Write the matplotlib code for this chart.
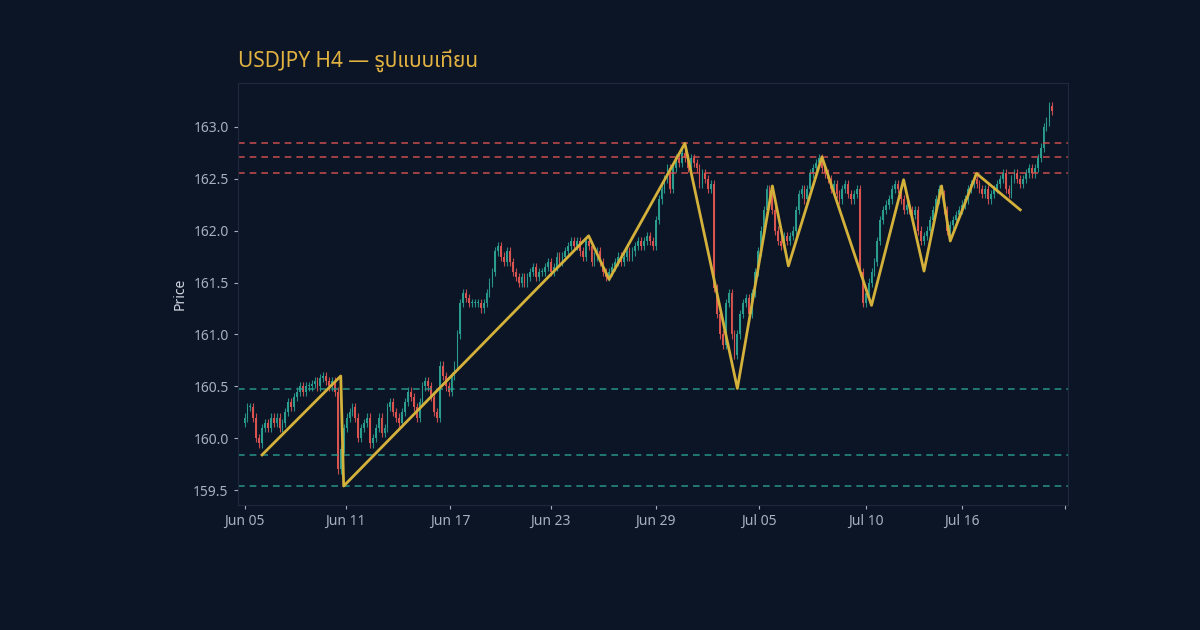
import numpy as np, pandas as pd
import matplotlib
matplotlib.use("Agg")
import matplotlib.pyplot as plt
import matplotlib.dates as mdates

closes = [
160.2,160.3,160.3,160.2,160.0,159.95,
160.1,160.15,160.1,160.2,160.15,160.2,
160.1,160.15,160.25,160.35,160.3,160.4,
160.45,160.5,160.45,160.5,160.5,160.52,
160.55,160.5,160.58,160.6,160.55,160.5,
160.55,160.45,159.7,159.9,160.1,160.2,
160.25,160.3,160.2,160.0,160.1,160.15,
160.2,159.95,160.0,160.1,160.2,160.05,
160.1,160.3,160.35,160.25,160.2,160.15,
160.25,160.35,160.45,160.4,160.3,160.2,
160.35,160.5,160.55,160.5,160.4,160.25,
160.2,160.7,160.6,160.5,160.45,160.6,
160.7,161.0,161.3,161.4,161.35,161.3,
161.3,161.3,161.3,161.25,161.3,161.4,
161.5,161.6,161.8,161.85,161.75,161.7,
161.8,161.7,161.6,161.55,161.5,161.55,
161.5,161.55,161.6,161.65,161.55,161.6,
161.6,161.65,161.7,161.6,161.65,161.75,
161.7,161.75,161.8,161.85,161.9,161.85,
161.9,161.8,161.75,161.9,161.85,161.7,
161.75,161.8,161.7,161.6,161.55,161.6,
161.65,161.7,161.75,161.7,161.75,161.8,
161.75,161.8,161.85,161.9,161.85,161.9,
161.95,161.9,161.85,162.1,162.3,162.4,
162.5,162.6,162.4,162.6,162.7,162.65,
162.75,162.7,162.6,162.7,162.65,162.6,
162.45,162.55,162.5,162.4,162.45,161.45,
161.2,161.0,160.9,161.3,161.4,161.0,
160.8,161.0,161.2,161.3,161.35,161.2,
161.4,161.6,161.8,162.0,162.2,162.4,
162.35,162.2,162.0,161.9,161.85,161.95,
161.9,161.95,162.0,162.2,162.35,162.4,
162.3,162.4,162.55,162.6,162.65,162.7,
162.6,162.55,162.5,162.4,162.45,162.35,
162.3,162.4,162.45,162.35,162.3,162.35,
162.4,161.6,161.3,161.4,161.5,161.6,
161.7,161.9,162.1,162.2,162.25,162.3,
162.4,162.45,162.4,162.3,162.2,162.25,
162.2,162.15,162.2,162.0,161.9,161.95,
162.0,162.1,162.2,162.3,162.4,162.35,
162.2,162.0,162.05,162.1,162.15,162.2,
162.25,162.3,162.4,162.45,162.5,162.45,
162.4,162.35,162.4,162.3,162.35,162.4,
162.45,162.5,162.55,162.4,162.35,162.5,
162.55,162.5,162.45,162.5,162.55,162.6,
162.55,162.6,162.7,162.8,163.0,163.05,
163.2,163.15,
]
first_open = 160.15
start = "2024-06-05 00:00"

pivot_times = ["2024-06-06 00:00","2024-06-10 12:00","2024-06-10 16:00","2024-06-24 16:00",
               "2024-06-25 20:00","2024-06-30 04:00","2024-07-03 04:00","2024-07-05 04:00",
               "2024-07-06 02:00","2024-07-08 00:00","2024-07-10 20:00","2024-07-12 16:00",
               "2024-07-13 20:00","2024-07-14 20:00","2024-07-15 08:00","2024-07-16 20:00",
               "2024-07-19 08:00"]
pivot_prices = [159.84,160.60,159.54,161.95,161.53,162.84,160.48,162.43,161.66,162.71,
                161.28,162.49,161.61,162.43,161.90,162.55,162.20]
resistance = [162.84, 162.71, 162.55]
support = [160.47, 159.84, 159.54]
tick_times = ["2024-06-05 00:00","2024-06-10 18:30","2024-06-16 18:00","2024-06-22 12:00",
              "2024-06-28 12:00","2024-07-04 09:00","2024-07-10 12:00","2024-07-16 00:00",
              "2024-07-21 22:00"]
tick_labels = ["Jun 05","Jun 11","Jun 17","Jun 23","Jun 29","Jul 05","Jul 10","Jul 16",""]

BG = "#0b1526"; UP = "#2a9d8f"; DN = "#d9534f"; GOLD = "#d4b13a"; TXT = "#a7b0c0"
plt.rcParams['font.family'] = ['Noto Sans', 'Noto Sans Thai', 'Loma', 'Garuda', 'DejaVu Sans']

t = pd.date_range(start, periods=len(closes), freq="4h")
x = mdates.date2num(t)
c = np.array(closes)
o = np.concatenate([[first_open], c[:-1]])
pad = 0.04
hi = np.maximum(o, c) + pad
lo = np.minimum(o, c) - pad

fig = plt.figure(figsize=(12, 6.3), dpi=100, facecolor=BG)
ax = fig.add_axes([0.198, 0.198, 0.692, 0.670], facecolor=BG)
w = 0.6 / 6
for xi, oi, ci, h, l in zip(x, o, c, hi, lo):
    col = UP if ci >= oi else DN
    ax.vlines(xi, l, h, color=col, lw=0.8, alpha=0.9)
    ax.bar(xi, max(abs(ci - oi), 0.01), w, bottom=min(oi, ci), color=col, lw=0)
for r in resistance:
    ax.axhline(r, color=DN, ls=(0, (4, 3)), lw=1.2, alpha=0.85)
for s in support:
    ax.axhline(s, color=UP, ls=(0, (4, 3)), lw=1.2, alpha=0.85)
ax.plot(mdates.date2num(pd.to_datetime(pivot_times)), pivot_prices, color=GOLD, lw=2)

ax.set_ylim(159.355, 163.42)
ax.set_xlim(mdates.date2num(pd.Timestamp("2024-06-04 14:30")), mdates.date2num(pd.Timestamp("2024-07-22 01:30")))
ax.set_xticks(mdates.date2num(pd.to_datetime(tick_times)))
ax.set_xticklabels(tick_labels)
ax.set_yticks([159.5, 160.0, 160.5, 161.0, 161.5, 162.0, 162.5, 163.0])
ax.set_yticklabels([f"{v:.1f}" for v in ax.get_yticks()])
ax.tick_params(colors=TXT, labelsize=10, length=3)
for sp in ax.spines.values():
    sp.set_color("#1e2a3c")
ax.set_ylabel("Price", color="#d0d6e0", fontsize=10)
ax.set_title("USDJPY H4 — รูปแบบเทียน", loc="left", color="#e3b341", fontsize=15,
             fontweight="bold", pad=12)
fig.savefig("out.png", facecolor=BG)
